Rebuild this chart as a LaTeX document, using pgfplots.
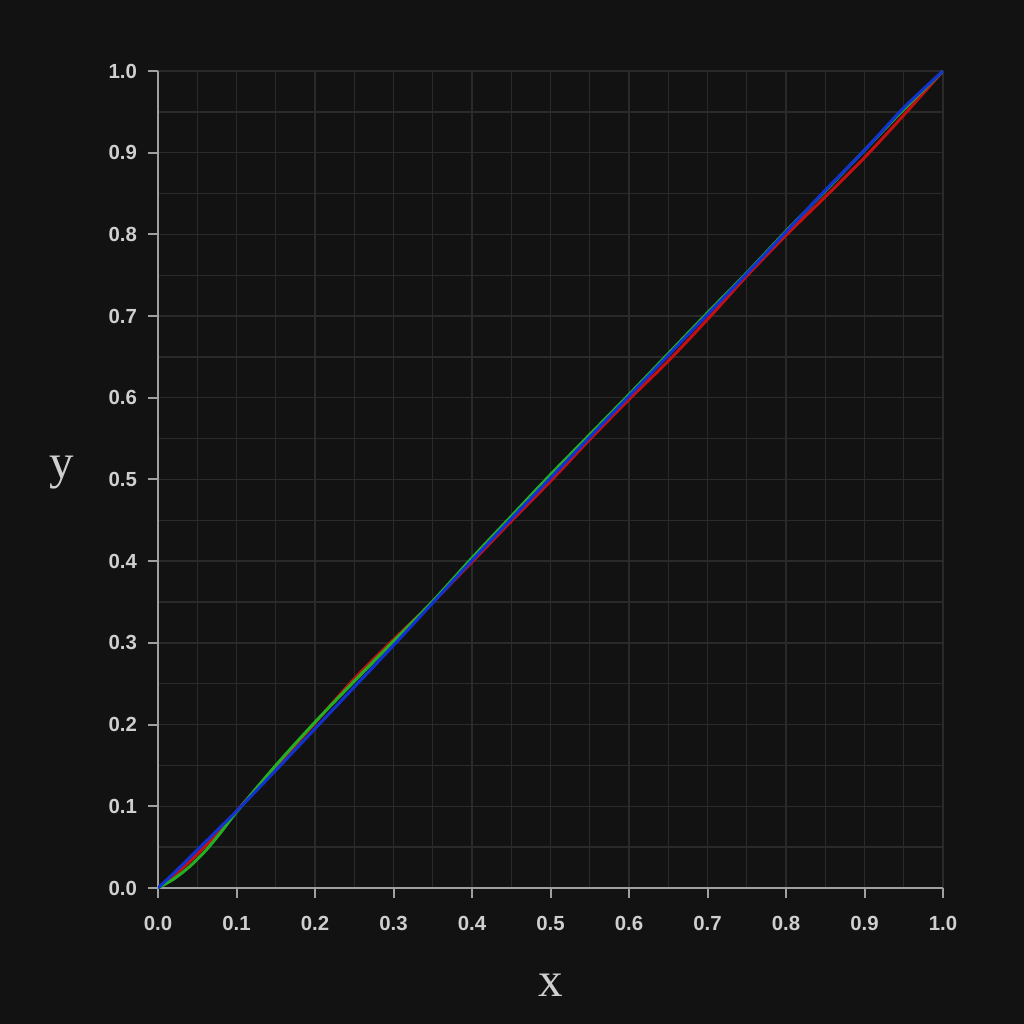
\documentclass[border=0pt]{standalone}
\usepackage{fontspec}
\setmainfont{Liberation Serif}
\newfontfamily\tickfont{Liberation Sans}
\usepackage{pgfplots}
\pgfplotsset{compat=1.18}

\definecolor{bg}{HTML}{121212}
\definecolor{gridc}{HTML}{2A2A2A}
\definecolor{spine}{HTML}{A0A0A0}
\definecolor{txt}{HTML}{CFCFCF}
\definecolor{cred}{HTML}{C41010}
\definecolor{cgreen}{HTML}{22B022}
\definecolor{cblue}{HTML}{1232D0}

\begin{document}
\begin{tikzpicture}
% 1 px of the reference = 0.5pt
\fill[bg] (0,0) rectangle (512pt,512pt);
\useasboundingbox (0,0) rectangle (512pt,512pt);
\begin{axis}[
  at={(79pt,68pt)}, anchor=south west,
  scale only axis, width=392.5pt, height=408.5pt,
  xmin=0, xmax=1, ymin=0, ymax=1,
  axis lines=left, axis line style={-, spine, line width=1pt},
  xtick={0,0.1,...,1.0}, ytick={0,0.1,...,1.0},
  minor tick num=1,
  grid=both,
  major grid style={gridc, line width=0.7pt},
  minor grid style={gridc, line width=0.7pt},
  tick align=outside, major tick length=5pt, minor tick length=0pt,
  tick style={spine, line width=1pt},
  /pgf/number format/.cd, fixed, fixed zerofill, precision=1, assume math mode=true,
  /pgfplots/.cd,
  ticklabel style={font=\tickfont\bfseries\fontsize{10.2}{12}\selectfont, text=txt},
  xticklabel style={yshift=-5.5pt},
  yticklabel style={xshift=-2pt},
  xlabel={x}, ylabel={y},
  xlabel style={at={(axis description cs:0.5,-0.1334)}, anchor=base,
    font=\fontsize{24.5}{26}\selectfont, text=txt},
  ylabel style={at={(axis description cs:-0.1223,0.5018)}, anchor=base, rotate=-90,
    font=\fontsize{24.5}{26}\selectfont, text=txt},
  every axis plot/.append style={line width=1.5pt, smooth, no marks},
]
\addplot[cred] coordinates {
(0,0) (0.02,0.015) (0.04,0.032) (0.06,0.051) (0.08,0.072) (0.10,0.094)
(0.15,0.148) (0.20,0.202) (0.25,0.256) (0.30,0.304) (0.35,0.350)
(0.40,0.399) (0.45,0.449) (0.50,0.498) (0.55,0.549) (0.60,0.598)
(0.65,0.645) (0.70,0.696) (0.75,0.749) (0.80,0.799) (0.85,0.846)
(0.90,0.894) (0.95,0.946) (1.0,1.0)
};
\addplot[cgreen] coordinates {
(0,0) (0.02,0.011) (0.04,0.026) (0.06,0.045) (0.08,0.068) (0.10,0.093)
(0.15,0.150) (0.20,0.203) (0.25,0.253) (0.30,0.302) (0.35,0.351)
(0.40,0.404) (0.45,0.455) (0.50,0.506) (0.55,0.555) (0.60,0.604)
(0.65,0.654) (0.70,0.704) (0.75,0.753) (0.80,0.804) (0.85,0.853)
(0.90,0.903) (0.95,0.953) (1.0,1.0)
};
\addplot[cblue] coordinates {
(0,0) (0.02,0.018) (0.04,0.037) (0.06,0.056) (0.08,0.075) (0.10,0.094)
(0.15,0.144) (0.20,0.195) (0.25,0.246) (0.30,0.297) (0.35,0.349)
(0.40,0.401) (0.45,0.452) (0.50,0.502) (0.55,0.552) (0.60,0.602)
(0.65,0.652) (0.70,0.702) (0.75,0.752) (0.80,0.803) (0.85,0.854)
(0.90,0.903) (0.95,0.955) (1.0,1.0)
};
\end{axis}
\end{tikzpicture}
\end{document}
